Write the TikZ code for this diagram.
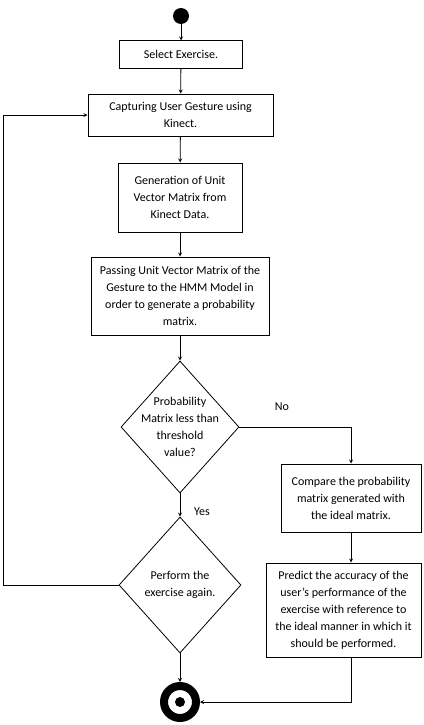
\documentclass[tikz,border=0pt]{standalone}
\usepackage{fontspec}
\setmainfont{Carlito}
\usetikzlibrary{shapes.geometric}

\begin{document}
\begin{tikzpicture}[
        > = stealth,
        x = 1pt, y = -1pt,
        line width = 0.8pt,
        every node/.style = {font = \fontsize{12}{17}\selectfont},
        stepbox/.style = {draw, line width = 1pt, align = center, inner sep = 0pt},
        choice/.style = {draw, diamond, line width = 0.8pt, inner sep = 0pt}
    ]
        \useasboundingbox (0,0) rectangle (423,725);
        % start and end
        \node[circle, fill = black, minimum size = 16pt, inner sep = 0pt] (start) at (181,16) {};
        \node[circle, draw = black, fill = white, line width = 8pt, minimum size = 32pt, inner sep = 0pt,
            path picture = {\fill[black] (path picture bounding box.center) circle (5pt);}] (stop) at (180,702) {};
        % steps
        \node[stepbox, minimum width = 123pt, minimum height = 27pt] (select) at (181,54.5) {Select Exercise.};
        \node[stepbox, minimum width = 185pt, minimum height = 42pt] (capture) at (180.5,115) {Capturing User Gesture using\\Kinect.};
        \node[stepbox, minimum width = 124pt, minimum height = 69pt] (unitvec) at (180,197.5) {Generation of Unit\\Vector Matrix from\\Kinect Data.};
        \node[stepbox, minimum width = 178pt, minimum height = 78pt] (hmm) at (180,296) {Passing Unit Vector Matrix of the\\Gesture to the HMM Model in\\order to generate a probability\\matrix.};
        \node[choice, minimum width = 118pt, minimum height = 132pt,
            label = {[align = center]center:Probability\\Matrix less than\\threshold\\value?}] (check) at (180,427) {};
        \node[choice, minimum width = 122pt, minimum height = 136pt,
            label = {[align = center]center:Perform the\\exercise again.}] (again) at (180,585) {};
        \node[stepbox, minimum width = 140pt, minimum height = 68pt] (compare) at (351,498) {Compare the probability\\matrix generated with\\the ideal matrix.};
        \node[stepbox, minimum width = 155pt, minimum height = 94pt] (predict) at (343.5,610) {Predict the accuracy of the\\user's performance of the\\exercise with reference to\\the ideal manner in which it\\should be performed.};
        \node (no) at (282,407) {No};
        \node (yes) at (202,512) {Yes};
        \coordinate (back) at (3,585);
        % arrows
        \draw[->] (start) -- (select);
        \draw[->] (select) -- (capture);
        \draw[->] (capture) -- (unitvec);
        \draw[->] (unitvec) -- (hmm);
        \draw[->] (hmm) -- (check);
        \draw[->] (check) -- (again);
        \draw[->] (check.east) -| (compare.north);
        \draw[->] (compare.south) -- (compare.south |- predict.north);
        \draw[->] (again) -- (stop);
        \draw[->] (again.west) -- (back) |- (capture.west);
        \draw[->] (compare.south |- predict.south) |- (stop.east);
    \end{tikzpicture}
\end{document}
